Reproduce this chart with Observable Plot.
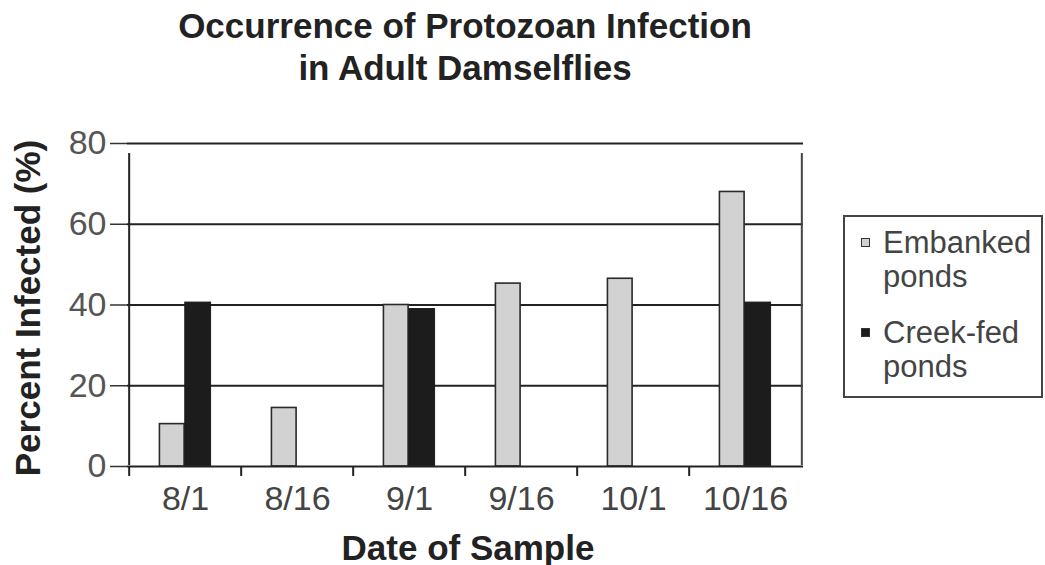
<!DOCTYPE html>
<html>
<head>
<meta charset="utf-8">
<script src="https://cdn.jsdelivr.net/npm/d3@7"></script>
<script src="https://cdn.jsdelivr.net/npm/@observablehq/plot@0.6"></script>
<style>
  html, body { margin: 0; padding: 0; background: #fff; }
  body { width: 1045px; height: 565px; position: relative; overflow: hidden; font-family: "Liberation Sans", Arial, Helvetica, sans-serif; }
  #title { position: absolute; left: 0; top: 5px; width: 930px; text-align: center; font-weight: bold; font-size: 35px; line-height: 42px; color: #222; }
  #chart { position: absolute; left: 0; top: 100px; }
  #ylabel { position: absolute; left: 28px; top: 308px; transform: translate(-50%, -50%) rotate(-90deg); white-space: nowrap; font-weight: bold; font-size: 35px; color: #222; }
  #xlabel { position: absolute; left: 468px; top: 548px; transform: translate(-50%, -50%); white-space: nowrap; font-weight: bold; font-size: 35px; color: #222; }
  #legend { position: absolute; left: 843px; top: 215px; width: 200px; height: 183px; border: 2px solid #444; box-sizing: border-box; color: #444; font-size: 31px; }
  .entry { position: absolute; left: 38px; line-height: 34px; }
  .sw { position: absolute; left: -22px; top: 12px; width: 9px; height: 9px; box-sizing: border-box; border: 1.5px solid #333; }
</style>
</head>
<body>
<div id="title">Occurrence of Protozoan Infection<br>in Adult Damselflies</div>
<div id="chart"></div>
<div id="ylabel">Percent Infected (%)</div>
<div id="xlabel">Date of Sample</div>
<div id="legend"></div>
<script>
const dates = ["8/1", "8/16", "9/1", "9/16", "10/1", "10/16"];
const embanked = [10.5, 14.5, 40, 45.3, 46.5, 68];
const creekFed = [40.6, null, 39, null, null, 40.6];
const seriesNames = ["Embanked ponds", "Creek-fed ponds"];
const yTicks = [0, 20, 40, 60, 80];

const W = 1045, H = 465;
const mL = 127, mR = 242, mT = 43, mB = 99;
const bw = (W - mL - mR) / dates.length;

const embData = dates.map((d, i) => ({date: d, value: embanked[i]})).filter(d => d.value != null);
const crkData = dates.map((d, i) => ({date: d, value: creekFed[i]})).filter(d => d.value != null);

const chart = Plot.plot({
  width: W, height: H,
  marginLeft: mL, marginRight: mR, marginTop: mT, marginBottom: mB,
  style: {fontFamily: "'Liberation Sans', Arial, sans-serif", background: "#fff"},
  x: {type: "band", domain: dates, padding: 0, label: null},
  y: {domain: [0, 80], label: null},
  marks: [
    Plot.gridY(yTicks.filter(t => t > 0), {stroke: "#222", strokeOpacity: 1, strokeWidth: 2}),
    Plot.barY(embData, {x: "date", y: "value", fill: "#d2d2d2", stroke: "#2a2a2a", strokeWidth: 1.6,
      insetLeft: 0.27 * bw, insetRight: bw - 0.495 * bw}),
    Plot.barY(crkData, {x: "date", y: "value", fill: "#1c1c1c", stroke: "#1c1c1c", strokeWidth: 1,
      insetLeft: 0.495 * bw, insetRight: bw - 0.73 * bw}),
    Plot.ruleY([0], {stroke: "#222", strokeWidth: 2}),
    Plot.ruleX([dates[0]], {x: d => d, y1: 0, y2: 80, dx: -bw / 2, stroke: "#222", strokeWidth: 2, insetBottom: -10, insetTop: -1}),
    Plot.ruleX([dates[dates.length - 1]], {x: d => d, y1: 0, y2: 80, dx: bw / 2, stroke: "#444", strokeWidth: 2, insetBottom: -10, insetTop: -1}),
    Plot.axisX({ticks: dates, tickSize: 10, tickFormat: () => "", dx: -bw / 2, stroke: "#222", strokeWidth: 2}),
    Plot.axisX({ticks: dates, tickSize: 0, tickPadding: 19, fontSize: 34, fill: "#444", label: null}),
    Plot.axisY({ticks: yTicks, tickSize: 17, tickPadding: 4, fontSize: 34, fill: "#555", stroke: "#333", strokeWidth: 1.5, label: null})
  ]
});
document.getElementById("chart").appendChild(chart);

const legend = document.getElementById("legend");
const entries = [
  {name: seriesNames[0], fill: "#d2d2d2", top: 9},
  {name: seriesNames[1], fill: "#1c1c1c", top: 99}
];
entries.forEach(e => {
  const div = document.createElement("div");
  div.className = "entry";
  div.style.top = e.top + "px";
  const [a, b] = e.name.split(" ");
  div.innerHTML = `<span class="sw" style="background:${e.fill}"></span>${a}<br>${b}`;
  legend.appendChild(div);
});
</script>
</body>
</html>
